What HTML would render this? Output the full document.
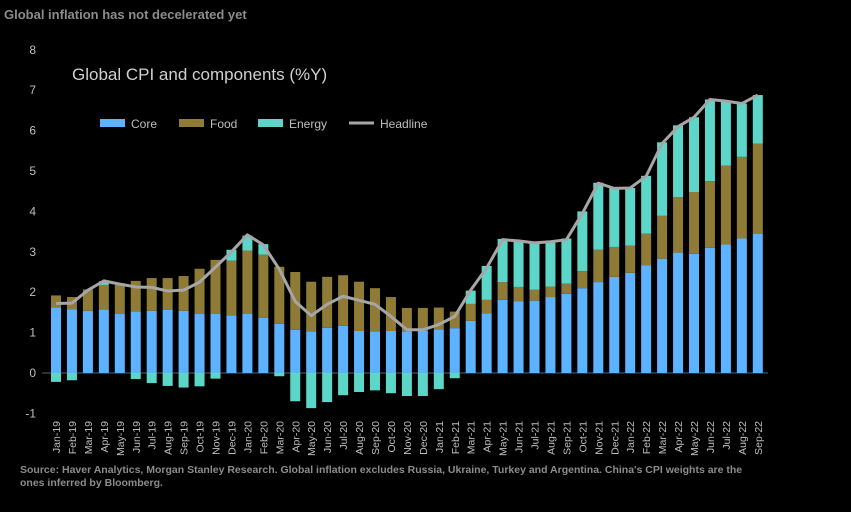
<!DOCTYPE html>
<html><head><meta charset="utf-8"><style>
body{margin:0;background:#000;width:851px;height:507px;overflow:hidden;font-family:"Liberation Sans",sans-serif}
</style></head><body>
<svg id="c" width="851" height="507" xmlns="http://www.w3.org/2000/svg">
<text x="4" y="19" fill="#8c8c8c" font-size="13" font-weight="bold">Global inflation has not decelerated yet</text>
<text x="72" y="80" fill="#d0d0d0" font-size="17">Global CPI and components (%Y)</text>
<g>
<rect x="100" y="119" width="25" height="8" fill="#5DB3FF"/>
<text x="131" y="128" fill="#bfbfbf" font-size="12">Core</text>
<rect x="179" y="119" width="25" height="8" fill="#8F7A36"/>
<text x="210" y="128" fill="#bfbfbf" font-size="12">Food</text>
<rect x="258" y="119" width="25" height="8" fill="#5CD6C9"/>
<text x="289" y="128" fill="#bfbfbf" font-size="12">Energy</text>
<line x1="349" y1="123" x2="374" y2="123" stroke="#A6A6A6" stroke-width="3"/>
<text x="380" y="128" fill="#bfbfbf" font-size="12">Headline</text>
</g>
<g id="axes"></g><g id="bars"></g><g id="line"></g>
<text x="20" y="473" fill="#8c8c8c" font-size="10.5" font-weight="bold">Source: Haver Analytics, Morgan Stanley Research. Global inflation excludes Russia, Ukraine, Turkey and Argentina. China's CPI weights are the</text>
<text x="20" y="486" fill="#8c8c8c" font-size="10.5" font-weight="bold">ones inferred by Bloomberg.</text>
</svg>
<script>
const months=["Jan-19","Feb-19","Mar-19","Apr-19","May-19","Jun-19","Jul-19","Aug-19","Sep-19","Oct-19","Nov-19","Dec-19","Jan-20","Feb-20","Mar-20","Apr-20","May-20","Jun-20","Jul-20","Aug-20","Sep-20","Oct-20","Nov-20","Dec-20","Jan-21","Feb-21","Mar-21","Apr-21","May-21","Jun-21","Jul-21","Aug-21","Sep-21","Oct-21","Nov-21","Dec-21","Jan-22","Feb-22","Mar-22","Apr-22","May-22","Jun-22","Jul-22","Aug-22","Sep-22"];
const core=[1.62,1.58,1.54,1.57,1.46,1.52,1.54,1.56,1.54,1.46,1.47,1.43,1.47,1.37,1.22,1.07,1.03,1.12,1.17,1.04,1.03,1.04,1.03,1.05,1.08,1.11,1.29,1.48,1.81,1.77,1.79,1.88,1.96,2.1,2.25,2.38,2.48,2.67,2.83,2.98,2.95,3.1,3.18,3.33,3.45];
const food=[0.30,0.30,0.53,0.61,0.72,0.76,0.81,0.79,0.86,1.12,1.33,1.35,1.56,1.56,1.41,1.43,1.23,1.26,1.25,1.22,1.07,0.84,0.58,0.56,0.54,0.41,0.42,0.33,0.44,0.36,0.27,0.26,0.25,0.42,0.8,0.74,0.67,0.78,1.06,1.37,1.53,1.65,1.95,2.02,2.23];
const energy=[-0.22,-0.18,0,0.09,0,-0.15,-0.25,-0.32,-0.36,-0.33,-0.14,0.27,0.37,0.26,-0.08,-0.7,-0.87,-0.72,-0.55,-0.47,-0.43,-0.5,-0.57,-0.57,-0.4,-0.13,0.33,0.84,1.07,1.12,1.15,1.13,1.12,1.48,1.66,1.46,1.43,1.43,1.82,1.78,1.85,2.02,1.6,1.32,1.2];
const headline=[1.72,1.73,2.05,2.28,2.2,2.13,2.12,2.03,2.05,2.25,2.62,3.0,3.42,3.17,2.57,1.77,1.42,1.7,1.9,1.8,1.7,1.4,1.07,1.07,1.2,1.4,2.05,2.6,3.3,3.27,3.22,3.25,3.3,3.95,4.7,4.57,4.58,4.87,5.68,6.1,6.33,6.77,6.73,6.67,6.88];
const yTicks=[-1,0,1,2,3,4,5,6,7,8];
const NS="http://www.w3.org/2000/svg";
const y=v=>373-v*40.4;
const x=i=>56+i*15.95;
const bw=10;
function mk(t,a,p){const e=document.createElementNS(NS,t);for(const k in a)e.setAttribute(k,a[k]);p.appendChild(e);return e;}
const ax=document.getElementById('axes'),bg=document.getElementById('bars'),lg=document.getElementById('line');
yTicks.forEach(v=>{const t=mk('text',{x:36,y:y(v)+4,fill:'#bfbfbf','font-size':12,'text-anchor':'end'},ax);t.textContent=v;

});
months.forEach((m,i)=>{const t=mk('text',{x:0,y:0,fill:'#bfbfbf','font-size':10.5,'text-anchor':'end',transform:`translate(${x(i)+4},421) rotate(-90)`},ax);t.textContent=m;

});
months.forEach((m,i)=>{
 const seg=(a,b,c,n)=>{const r=mk('rect',{x:x(i)-bw/2,y:Math.min(y(a),y(b)),width:bw,height:Math.abs(y(a)-y(b)),fill:c},bg);
 
 };
 seg(0,core[i],'#5DB3FF','bar-core');
 seg(core[i],core[i]+food[i],'#8F7A36','bar-food');
 const e=energy[i];
 if(e>0)seg(core[i]+food[i],core[i]+food[i]+e,'#5CD6C9','bar-energy');
 else if(e<0)seg(0,e,'#5CD6C9','bar-energy');
});
const zl=mk('line',{x1:42,x2:768,y1:y(0),y2:y(0),stroke:'#404040','stroke-width':1.5},ax);


const pl=mk('polyline',{points:headline.map((v,i)=>x(i)+','+y(v)).join(' '),fill:'none',stroke:'#A6A6A6','stroke-width':3,'stroke-linejoin':'round'},lg);


</script>
</body></html>
